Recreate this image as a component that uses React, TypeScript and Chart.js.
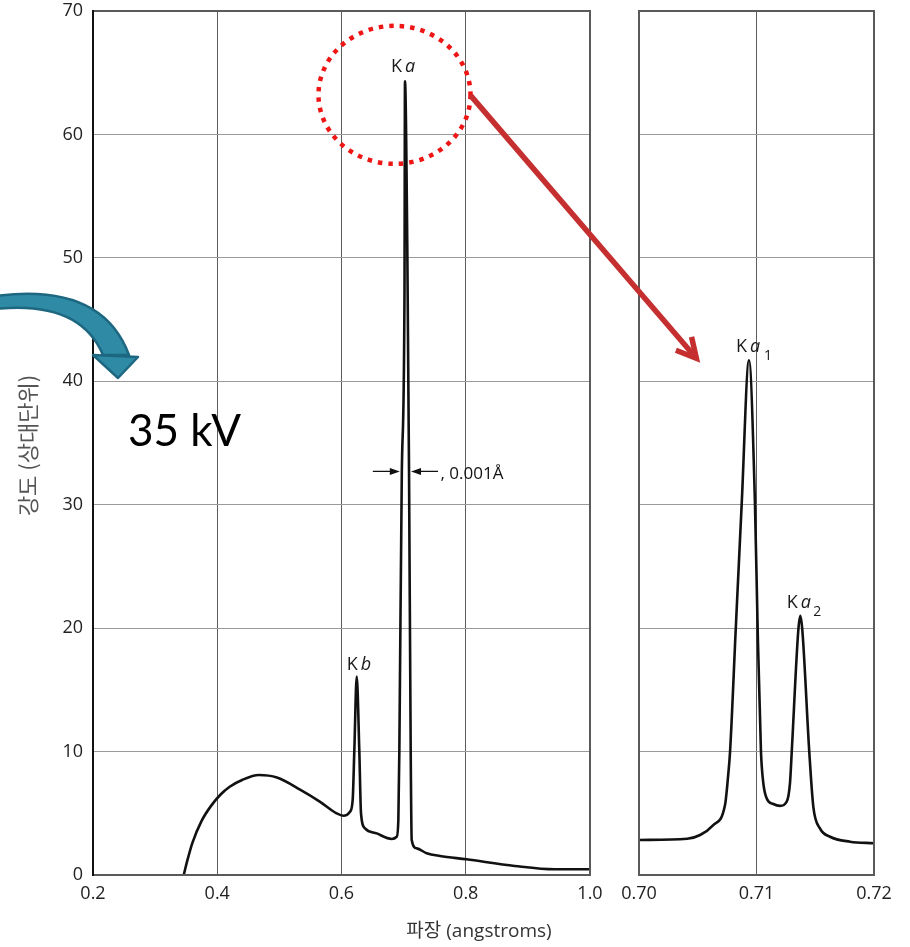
import React, { useEffect, useRef } from "react";
import { Chart, registerables } from "chart.js";

Chart.register(...registerables);

// ---- data (wavelength in angstroms, intensity in relative units) ----
const leftWavelength = [
  0.346, 0.352, 0.36, 0.375, 0.39, 0.405, 0.42, 0.44, 0.467, 0.496, 0.534,
  0.565, 0.592, 0.603, 0.6137, 0.618, 0.6206, 0.6245, 0.6287, 0.6314, 0.6378,
  0.6567, 0.6808, 0.6889, 0.6915, 0.6931, 0.6971, 0.7014, 0.7022, 0.7059,
  0.7087, 0.7114, 0.713, 0.721, 0.7372, 0.7586, 0.801, 0.879, 0.943, 1.0,
];
const leftIntensity = [
  0, 1.2, 2.6, 4.4, 5.6, 6.5, 7.15, 7.7, 8.1, 7.9, 6.9,
  5.95, 5.0, 4.8, 5.13, 6.08, 10, 16.07, 10, 5.0, 3.78,
  3.37, 2.92, 3.1, 4.45, 10, 32.7, 47.2, 64.3, 50.9,
  32.7, 10, 2.84, 2.16, 1.76, 1.54, 1.27, 0.73, 0.46, 0.46,
];
const rightWavelength = [
  0.7, 0.7041, 0.7052, 0.70632, 0.70732, 0.7076, 0.70775, 0.70823, 0.70874,
  0.70936, 0.70987, 0.7101, 0.71038, 0.71058, 0.71087, 0.71143, 0.712,
  0.71257, 0.71285, 0.713, 0.71356, 0.71373, 0.7139, 0.71449, 0.71484,
  0.7154, 0.71626, 0.71796, 0.72,
];
const rightIntensity = [
  2.84, 2.94, 3.24, 4.05, 5.67, 8.2, 10, 19.85, 30.07,
  41.7, 30.07, 19.85, 10, 7.45, 6.2, 5.75, 5.6,
  5.94, 7.45, 10, 19.85, 21.0, 19.85, 10, 5.5,
  3.78, 3.1, 2.7, 2.57,
];
const leftXTicks = [0.2, 0.4, 0.6, 0.8, 1.0];
const rightXTicks = [0.7, 0.71, 0.72];
const yTicks = [0, 10, 20, 30, 40, 50, 60, 70];

const xAxisTitle = "파장 (angstroms)";
const yAxisTitle = "강도 (상대단위)";
const voltageLabel = "35 kV";
const widthLabel = ", 0.001Å";
const greekAlpha = "a";
const greekBeta = "b";

const W = 910;
const H = 947;
const FONT = '"Open Sans", "Noto Sans CJK KR", sans-serif';

function argmaxWhere(xs: number[], ys: number[], pred: (x: number) => boolean) {
  let best = -1;
  for (let i = 0; i < ys.length; i++) {
    if (!pred(xs[i])) continue;
    if (best < 0 || ys[i] > ys[best]) best = i;
  }
  return best;
}

const boxPlugin = (leftColor: string) => ({
  id: "panelBox",
  afterDatasetsDraw(chart: any) {
    const { ctx, chartArea: a } = chart;
    ctx.save();
    ctx.strokeStyle = "#5a5a5a";
    ctx.lineWidth = 2;
    ctx.strokeRect(a.left, a.top, a.right - a.left, a.bottom - a.top);
    ctx.strokeStyle = leftColor;
    ctx.beginPath();
    ctx.moveTo(a.left, a.top - 1);
    ctx.lineTo(a.left, a.bottom + 1);
    ctx.stroke();
    ctx.restore();
  },
});

function makeOptions(
  xMin: number,
  xMax: number,
  xTicks: number[],
  decimals: number,
  padLeft: number,
  padRight: number,
  yWidth: number,
  showYTicks: boolean
): any {
  return {
    responsive: false,
    animation: false,
    devicePixelRatio: 1,
    layout: { padding: { left: padLeft, right: padRight, top: 11, bottom: 0 } },
    plugins: { legend: { display: false }, tooltip: { enabled: false } },
    elements: { point: { radius: 0 } },
    scales: {
      x: {
        type: "linear",
        min: xMin,
        max: xMax,
        afterBuildTicks: (s: any) => {
          s.ticks = xTicks.map((v) => ({ value: v }));
        },
        afterFit: (s: any) => {
          s.height = H - 875;
          s.paddingLeft = 0;
          s.paddingRight = 0;
        },
        ticks: {
          callback: (v: any) => Number(v).toFixed(decimals),
          font: { family: FONT, size: 18 },
          color: "#222",
          padding: 8,
          maxRotation: 0,
          autoSkip: false,
        },
        grid: { color: "#5c5c5c", lineWidth: 1, drawTicks: false },
        border: { display: false },
      },
      y: {
        min: 0,
        max: 70,
        afterBuildTicks: (s: any) => {
          s.ticks = yTicks.map((v) => ({ value: v }));
        },
        afterFit: (s: any) => {
          s.width = yWidth;
          s.paddingTop = 0;
          s.paddingBottom = 0;
        },
        ticks: {
          display: showYTicks,
          font: { family: FONT, size: 18 },
          color: "#222",
          padding: 10,
        },
        grid: { color: "#9a9a9a", lineWidth: 1, drawTicks: false },
        border: { display: false },
      },
    },
  };
}

function drawKLabel(
  ctx: CanvasRenderingContext2D,
  px: number,
  py: number,
  greek: string,
  sub: string,
  o: { k: number; g: number; s: number; base: number; subBase: number }
) {
  ctx.fillStyle = "#1a1a1a";
  ctx.textAlign = "left";
  ctx.textBaseline = "alphabetic";
  ctx.font = `18px ${FONT}`;
  ctx.fillText("K", px + o.k, py + o.base);
  ctx.font = `italic 18px ${FONT}`;
  ctx.fillText(greek, px + o.g, py + o.base);
  if (sub) {
    ctx.font = `14px ${FONT}`;
    ctx.fillText(sub, px + o.s, py + o.subBase);
  }
}

export default function App() {
  const leftRef = useRef<HTMLCanvasElement | null>(null);
  const rightRef = useRef<HTMLCanvasElement | null>(null);

  useEffect(() => {
    document.body.style.margin = "0";
    if (!leftRef.current || !rightRef.current) return;

    const left = new Chart(leftRef.current, {
      type: "line",
      data: {
        datasets: [
          {
            data: leftWavelength.map((x, i) => ({ x, y: leftIntensity[i] })),
            borderColor: "#111",
            borderWidth: 2.6,
            pointRadius: 0,
            fill: false,
            cubicInterpolationMode: "monotone",
          },
        ],
      },
      options: makeOptions(0.2, 1.0, leftXTicks, 1, 0, W - 590, 93, true),
      plugins: [boxPlugin("#111")],
    } as any);

    const overlay = {
      id: "overlay",
      afterDraw(chart: any) {
        const ctx: CanvasRenderingContext2D = chart.ctx;
        const lx = left.scales.x;
        const ly = left.scales.y;
        const rx = chart.scales.x;
        const ry = chart.scales.y;

        const iKa = argmaxWhere(leftWavelength, leftIntensity, () => true);
        const iKb = argmaxWhere(leftWavelength, leftIntensity, (x) => x < 0.66);
        const iKa1 = argmaxWhere(rightWavelength, rightIntensity, () => true);
        const iKa2 = argmaxWhere(rightWavelength, rightIntensity, (x) => x > 0.712);

        const ka = { x: lx.getPixelForValue(leftWavelength[iKa]), y: ly.getPixelForValue(leftIntensity[iKa]) };
        const kb = { x: lx.getPixelForValue(leftWavelength[iKb]), y: ly.getPixelForValue(leftIntensity[iKb]) };
        const ka1 = { x: rx.getPixelForValue(rightWavelength[iKa1]), y: ry.getPixelForValue(rightIntensity[iKa1]) };
        const ka2 = { x: rx.getPixelForValue(rightWavelength[iKa2]), y: ry.getPixelForValue(rightIntensity[iKa2]) };

        ctx.save();

        // peak labels
        drawKLabel(ctx, ka.x, ka.y, greekAlpha, "", { k: -14, g: 0, s: 0, base: -9, subBase: 0 });
        drawKLabel(ctx, kb.x, kb.y, greekBeta, "", { k: -10, g: 4, s: 0, base: -7, subBase: 0 });
        drawKLabel(ctx, ka1.x, ka1.y, greekAlpha, "1", { k: -13, g: 1, s: 15, base: -8, subBase: 0 });
        drawKLabel(ctx, ka2.x, ka2.y, greekAlpha, "2", { k: -13.6, g: 0.4, s: 13, base: -8.3, subBase: 0 });

        // width annotation
        const ay = ly.getPixelForValue(32.7);
        const lTip = lx.getPixelForValue(0.6971) - 2;
        const rTip = lx.getPixelForValue(0.7087) + 2;
        ctx.strokeStyle = "#111";
        ctx.fillStyle = "#111";
        ctx.lineWidth = 1.2;
        ctx.beginPath();
        ctx.moveTo(lTip - 27, ay);
        ctx.lineTo(lTip - 8, ay);
        ctx.moveTo(rTip + 8, ay);
        ctx.lineTo(rTip + 27, ay);
        ctx.stroke();
        ctx.beginPath();
        ctx.moveTo(lTip, ay);
        ctx.lineTo(lTip - 10, ay - 3.5);
        ctx.lineTo(lTip - 10, ay + 3.5);
        ctx.closePath();
        ctx.moveTo(rTip, ay);
        ctx.lineTo(rTip + 10, ay - 3.5);
        ctx.lineTo(rTip + 10, ay + 3.5);
        ctx.closePath();
        ctx.fill();
        ctx.font = `17px ${FONT}`;
        ctx.textAlign = "left";
        ctx.textBaseline = "alphabetic";
        ctx.fillText(widthLabel, rTip + 29.5, ay + 7.3);

        // red dotted circle around the K-alpha peak
        const cx = ka.x - 10.5;
        const cy = ka.y + 13.5;
        const crx = 76;
        const cry = 69;
        ctx.strokeStyle = "#ee1515";
        ctx.lineWidth = 4.5;
        ctx.setLineDash([4.5, 6]);
        ctx.beginPath();
        ctx.ellipse(cx, cy, crx, cry, 0, 0, Math.PI * 2);
        ctx.stroke();
        ctx.setLineDash([]);

        // red arrow to the zoomed panel
        const sx = cx + crx;
        const sy = cy + 0.5;
        const ex = ka1.x - 52.6;
        const ey = ka1.y - 2;
        ctx.strokeStyle = "#c52f2f";
        ctx.lineWidth = 5.5;
        ctx.lineCap = "butt";
        ctx.beginPath();
        ctx.moveTo(sx, sy);
        ctx.lineTo(ex - 2, ey - 2.3);
        ctx.stroke();
        const ang = Math.atan2(ey - sy, ex - sx) + Math.PI;
        const wl = 22;
        const wa = (28 * Math.PI) / 180;
        ctx.lineJoin = "miter";
        ctx.beginPath();
        ctx.moveTo(ex + wl * Math.cos(ang - wa), ey + wl * Math.sin(ang - wa));
        ctx.lineTo(ex, ey);
        ctx.lineTo(ex + wl * Math.cos(ang + wa), ey + wl * Math.sin(ang + wa));
        ctx.stroke();

        // blue curved arrow (decoration)
        ctx.fillStyle = "#2f8aa6";
        ctx.strokeStyle = "#1d6880";
        ctx.lineWidth = 2.5;
        ctx.lineJoin = "round";
        ctx.beginPath();
        ctx.moveTo(-5, 296);
        ctx.quadraticCurveTo(102, 282, 129, 355);
        ctx.lineTo(103, 355);
        ctx.quadraticCurveTo(80, 300, -5, 309);
        ctx.closePath();
        ctx.fill();
        ctx.stroke();
        ctx.beginPath();
        ctx.moveTo(93, 355);
        ctx.lineTo(138, 357);
        ctx.lineTo(118, 378);
        ctx.closePath();
        ctx.fill();
        ctx.stroke();

        // voltage label
        ctx.fillStyle = "#000";
        ctx.font = `44px Lato, ${FONT}`;
        ctx.textAlign = "left";
        ctx.textBaseline = "alphabetic";
        ctx.fillText(voltageLabel, 128, 445.7);

        // axis titles
        ctx.fillStyle = "#333";
        ctx.font = `19px ${FONT}`;
        ctx.textAlign = "center";
        ctx.fillText(xAxisTitle, 479, 937);

        ctx.save();
        ctx.translate(28, 445.5);
        ctx.rotate(-Math.PI / 2);
        ctx.fillStyle = "#555";
        ctx.font = `22px "Noto Sans CJK KR", ${FONT}`;
        ctx.textAlign = "center";
        ctx.textBaseline = "middle";
        ctx.fillText(yAxisTitle, 0, 0);
        ctx.restore();

        ctx.restore();
      },
    };

    const right = new Chart(rightRef.current, {
      type: "line",
      data: {
        datasets: [
          {
            data: rightWavelength.map((x, i) => ({ x, y: rightIntensity[i] })),
            borderColor: "#111",
            borderWidth: 2.6,
            pointRadius: 0,
            fill: false,
            cubicInterpolationMode: "monotone",
          },
        ],
      },
      options: makeOptions(0.7, 0.72, rightXTicks, 2, 639, W - 874, 0, false),
      plugins: [boxPlugin("#5a5a5a"), overlay],
    } as any);

    return () => {
      right.destroy();
      left.destroy();
    };
  }, []);

  const canvasStyle: React.CSSProperties = {
    position: "absolute",
    left: 0,
    top: 0,
    width: W,
    height: H,
  };

  return (
    <div style={{ position: "relative", width: W, height: H, background: "#fff" }}>
      <canvas ref={leftRef} width={W} height={H} style={canvasStyle} />
      <canvas ref={rightRef} width={W} height={H} style={canvasStyle} />
    </div>
  );
}
